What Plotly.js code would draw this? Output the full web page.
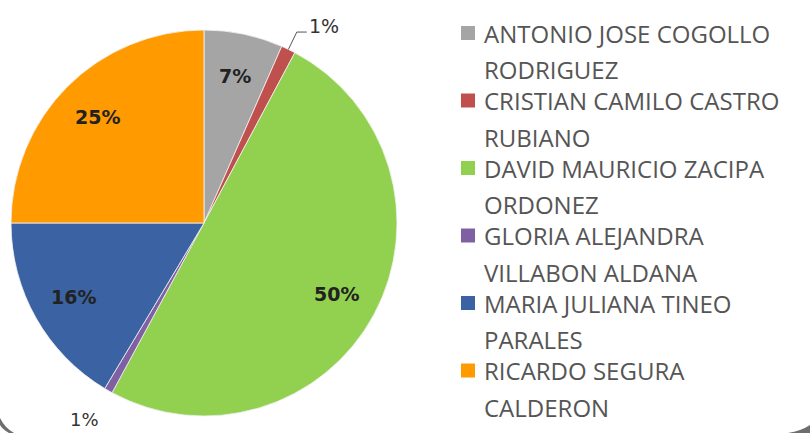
<!DOCTYPE html>
<html>
<head>
<meta charset="utf-8">
<script src="https://cdn.plot.ly/plotly-3.0.1.min.js"></script>
<style>html,body{margin:0;padding:0;background:#fff;}#chart{width:810px;height:433px;}</style>
</head>
<body>
<div id="chart"></div>
<script>
// Data
const names = [
  "ANTONIO JOSE COGOLLO|RODRIGUEZ",
  "CRISTIAN CAMILO CASTRO|RUBIANO",
  "DAVID MAURICIO ZACIPA|ORDONEZ",
  "GLORIA ALEJANDRA|VILLABON ALDANA",
  "MARIA JULIANA TINEO|PARALES",
  "RICARDO SEGURA|CALDERON"
];
const shares = [6.6, 1.2, 50.1, 0.7, 16.4, 25.0];
const colors = ["#A5A5A5", "#C0504D", "#92D050", "#7F61A3", "#3B63A3", "#FF9A00"];
const labelPlacement = ["inside", "leader", "inside", "outside", "inside", "inside"];

const W = 810, H = 433;
const px = x => x / W, py = y => 1 - y / H;
const labels = names.map(n => n.replace("|", " "));

// pie geometry (pixels)
const dom = { x0: 11, x1: 397, y0: 30, y1: 416 };
const cx = (dom.x0 + dom.x1) / 2, cy = (dom.y0 + dom.y1) / 2;
const R = Math.min(dom.x1 - dom.x0, dom.y1 - dom.y0) / 2;

const trace = {
  type: "pie",
  labels: labels,
  values: shares,
  sort: false,
  direction: "clockwise",
  rotation: 0,
  marker: { colors: colors, line: { color: "#f2f2f2", width: 0.8 } },
  textinfo: "none",
  domain: { x: [px(dom.x0), px(dom.x1)], y: [py(dom.y1), py(dom.y0)] },
  showlegend: false,
  hoverinfo: "label+percent"
};

const annotations = [];
const shapes = [];

// Data labels placed along each slice's mid angle (Excel-style best fit)
const total = shares.reduce((a, b) => a + b, 0);
let cum = 0;
shares.forEach((v, i) => {
  const mid = (cum + v / 2) / total * 2 * Math.PI;
  cum += v;
  const dx = Math.sin(mid), dy = -Math.cos(mid);
  const txt = Math.round(v / total * 100) + "%";
  if (labelPlacement[i] === "inside") {
    annotations.push({
      xref: "paper", yref: "paper", x: px(cx + dx * R * 0.78), y: py(cy + dy * R * 0.78),
      xanchor: "center", yanchor: "middle", showarrow: false, text: txt,
      font: { family: "DejaVu Sans", size: 19, color: "#222222", weight: "bold" }
    });
  } else if (labelPlacement[i] === "leader") {
    const ax = cx + dx * R, ay = cy + dy * R;
    const bx = cx + dx * R * 1.1, by = cy + dy * R * 1.1;
    shapes.push({
      type: "path", xref: "paper", yref: "paper",
      path: `M${px(ax)},${py(ay)} L${px(bx)},${py(by)} L${px(bx + 10)},${py(by)}`,
      line: { color: "#555555", width: 1 }
    });
    annotations.push({
      xref: "paper", yref: "paper", x: px(bx + 10), y: py(by - 6),
      xanchor: "left", yanchor: "middle", showarrow: false, text: txt,
      font: { family: "DejaVu Sans", size: 19, color: "#333333" }
    });
  } else {
    annotations.push({
      xref: "paper", yref: "paper", x: px(cx + dx * R * 1.17 - 8), y: py(cy + dy * R * 1.17),
      xanchor: "center", yanchor: "middle", showarrow: false, text: txt,
      font: { family: "DejaVu Sans", size: 18, color: "#333333" }
    });
  }
});

// Custom legend (two lines per entry, Excel-style spacing)
names.forEach((n, i) => {
  const parts = n.split("|");
  const y1 = 33 + 67.5 * i;
  const y2 = y1 + 36.5;
  shapes.push({
    type: "rect", xref: "paper", yref: "paper",
    x0: px(461), x1: px(475), y0: py(y1 + 7), y1: py(y1 - 7),
    fillcolor: colors[i], line: { width: 0 }
  });
  [[parts[0], y1], [parts[1], y2]].forEach(([t, y]) => {
    annotations.push({
      xref: "paper", yref: "paper", x: px(482), y: py(y),
      xanchor: "left", yanchor: "middle", showarrow: false, text: t,
      font: { family: "Open Sans", size: 24, color: "#555555" }
    });
  });
});

// Rounded frame shadow remnants at the bottom corners
shapes.push({
  type: "path", xref: "paper", yref: "paper",
  path: `M${px(0)},${py(418)} Q${px(5)},${py(428)} ${px(14)},${py(433)} L${px(9)},${py(433)} Q${px(2)},${py(429)} ${px(0)},${py(425)} Z`,
  fillcolor: "#6e6e6e", line: { width: 0 }
});
shapes.push({
  type: "path", xref: "paper", yref: "paper",
  path: `M${px(788)},${py(433)} Q${px(801)},${py(431)} ${px(810)},${py(425)} L${px(810)},${py(433)} Z`,
  fillcolor: "#6e6e6e", line: { width: 0 }
});

const layout = {
  width: W, height: H,
  margin: { l: 0, r: 0, t: 0, b: 0 },
  paper_bgcolor: "#ffffff",
  showlegend: false,
  annotations: annotations,
  shapes: shapes
};

Plotly.newPlot("chart", [trace], layout, { displayModeBar: false, staticPlot: true });
</script>
</body>
</html>
